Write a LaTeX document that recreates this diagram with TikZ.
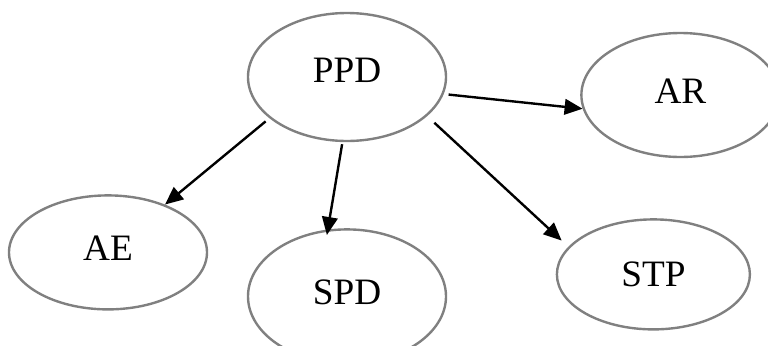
\documentclass[tikz,border=0pt]{standalone}
\usepackage{fontspec}
\setmainfont{Liberation Serif}
\usepackage{xcolor}
\usepackage{tikz}
\usetikzlibrary{shapes.geometric, arrows.meta, positioning}
\definecolor{ringgray}{HTML}{808080}
\tikzstyle{bubble} = [ellipse, draw=ringgray, line width=1.7pt, fill=white, minimum width=4.95cm, minimum height=3cm, text centered, text depth=0.2cm, font=\fontsize{26.5}{31}\selectfont]
\tikzstyle{arrow} = [-{Triangle[length=4.5mm, width=3.9mm]}, line width=1.7pt, draw=black]

\begin{document}
\begin{tikzpicture}
    \useasboundingbox (0,0) rectangle (19.2,-8.625);

    % === TOP: PPD ===
    \node[bubble, minimum height=3.2cm, text depth=0.35cm] (ppd) at (8.675,-1.925) {PPD};

    % === RIGHT: AR ===
    \node[bubble, minimum height=3.1cm, right=3.325cm of ppd, yshift=-0.45cm] (ar) {AR};

    % === BOTTOM ROW ===
    \node[bubble, minimum height=2.85cm, below=1.3cm of ppd, xshift=-5.975cm] (ae) {AE};
    \node[bubble, minimum height=3.35cm, below=2.15cm of ppd] (spd) {SPD};
    \node[bubble, minimum width=4.825cm, minimum height=2.75cm, text depth=0cm, below=1.9cm of ppd, xshift=7.66cm] (stp) {STP};

    % ===== ARROWS =====
    \draw[arrow, shorten <=3.5pt] (ppd.350) -- (ar.188);
    \draw[arrow, shorten <=3.5pt] (ppd.208) -- (ae.40);
    \draw[arrow, shorten <=1.5pt, shorten >=-4pt] (ppd.266) -- (spd.106);
    \draw[arrow, shorten <=7pt, shorten >=6.5pt] (ppd.334) -- (stp.162);
\end{tikzpicture}
\end{document}
